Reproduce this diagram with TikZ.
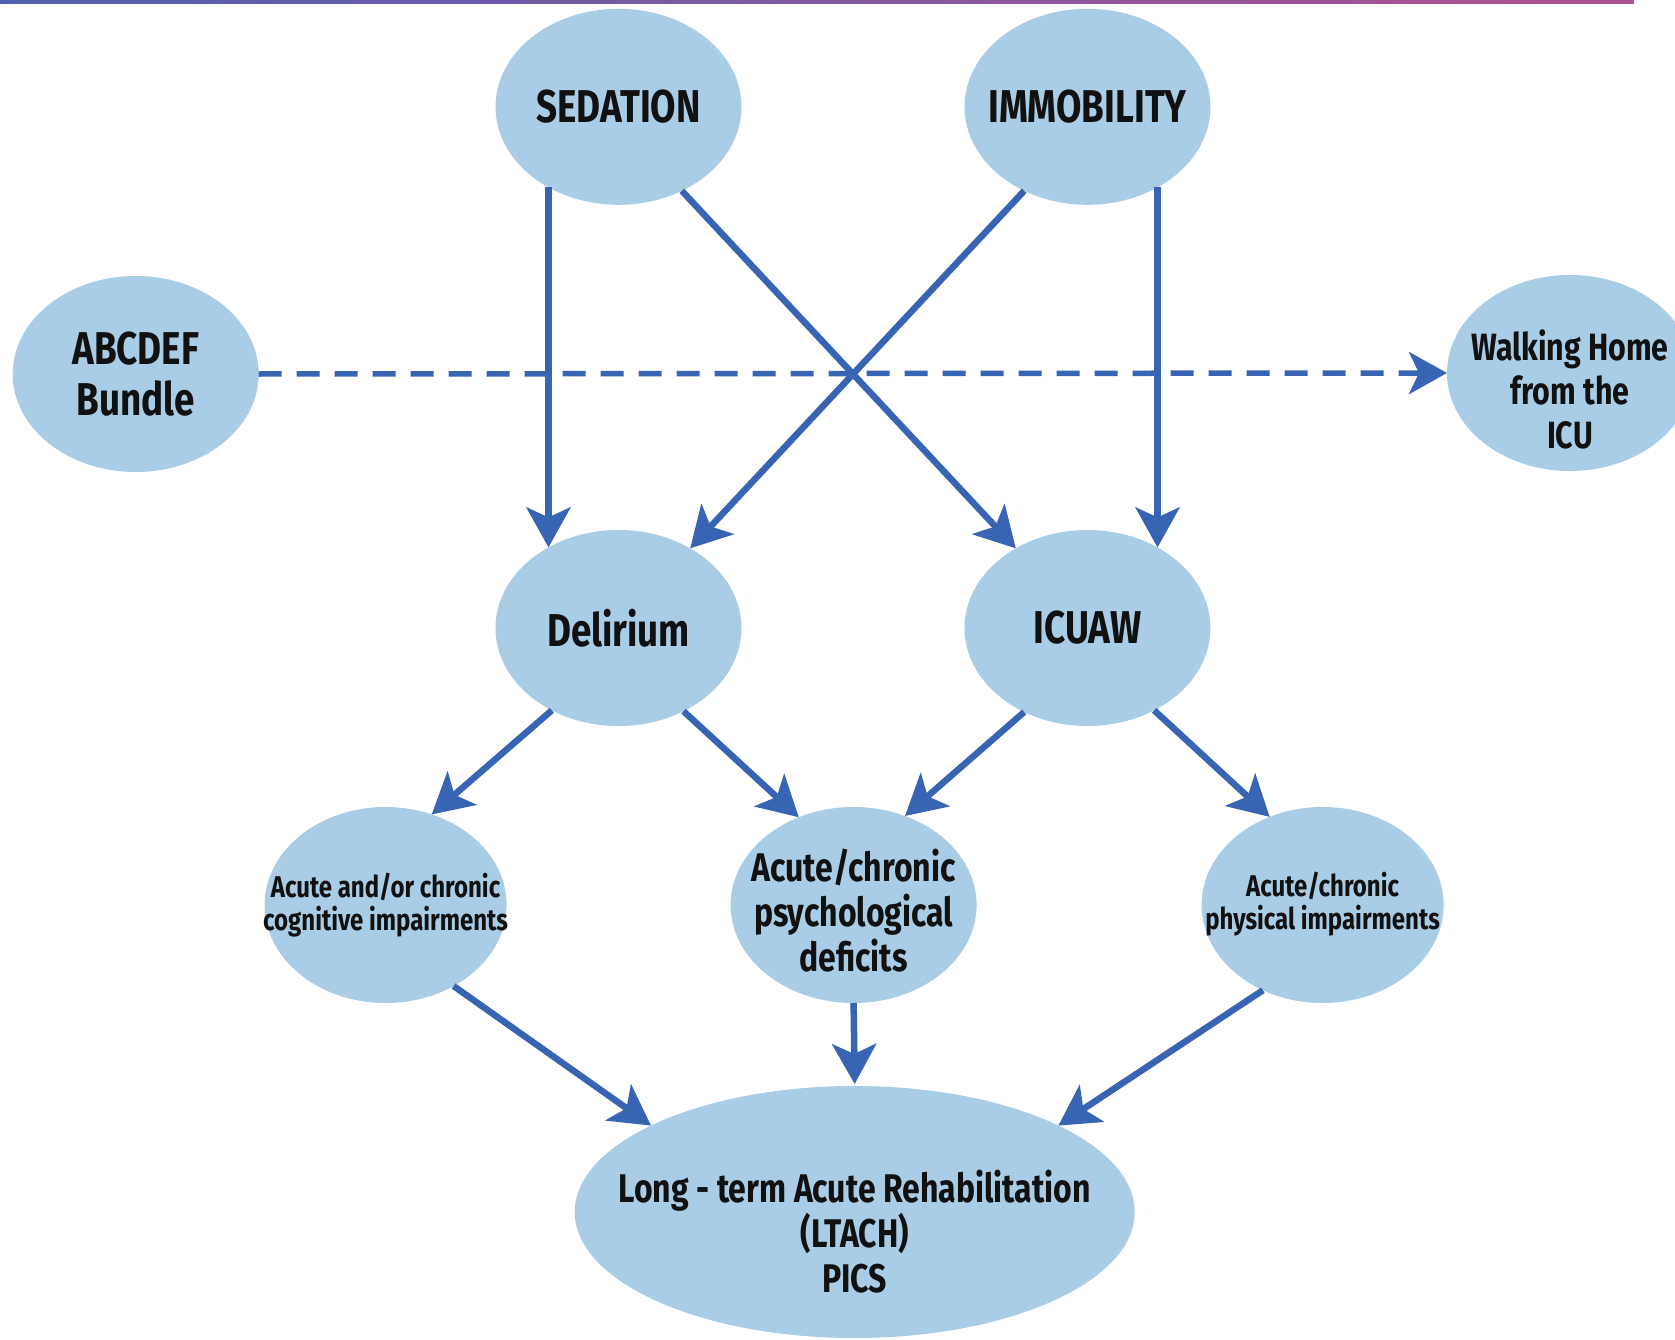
\documentclass[tikz,border=0pt]{standalone}
\usepackage{fontspec}
\newfontfamily\cf[FakeStretch=0.8]{Fira Sans}
\usetikzlibrary{shapes.geometric,arrows.meta}
\definecolor{ellfill}{RGB}{169,205,230}
\definecolor{arr}{RGB}{56,100,180}
\definecolor{ink}{RGB}{17,17,17}
\definecolor{barL}{RGB}{80,96,176}
\definecolor{barR}{RGB}{176,80,144}
\begin{document}
\begin{tikzpicture}[x=1pt,y=-1pt,
  ell/.style={ellipse, fill=ellfill, draw=none, inner sep=0pt, outer sep=0pt,
    minimum width=246pt, minimum height=196pt},
  txtbase/.style={align=center, text=ink, inner sep=0pt},
  bigtxt/.style={txtbase, font=\cf\bfseries\fontsize{46}{51}\selectfont},
  midtxt/.style={txtbase, font=\cf\bfseries\fontsize{40}{45}\selectfont},
  smalltxt/.style={txtbase, font=\cf\bfseries\fontsize{30}{33}\selectfont},
  conn/.style={draw=arr, line width=6.5pt, -{Stealth[length=40pt,width=44pt,inset=10pt]}},
  dashconn/.style={draw=arr, line width=5.5pt, dash pattern=on 23pt off 15pt,
    -{Stealth[length=38pt,width=42pt,inset=10pt]}}
]
\fill[white] (0,0) rectangle (1675,1340);
\useasboundingbox (0,0) rectangle (1675,1340);
\shade[left color=barL, right color=barR] (0,0) rectangle (1634,3.5);

% ellipses
\node[ell] (sed) at (618.5,106.8) {};
\node[ell] (imm) at (1087.5,106.8) {};
\node[ell] (abc) at (135.7,374) {};
\node[ell] (walk) at (1570,373) {};
\node[ell] (del) at (618.5,628) {};
\node[ell] (icu) at (1087.5,628) {};
\node[ell, minimum width=242pt] (cog) at (385.6,905) {};
\node[ell] (psy) at (853.6,905) {};
\node[ell, minimum width=242pt] (phy) at (1322.6,905) {};
\node[ell, minimum width=560pt, minimum height=252pt] (lt) at (854.7,1212) {};

% texts
\node[midtxt, font=\cf\bfseries\fontsize{38}{44}\selectfont] (walkT) at ([yshift=-16pt]walk.center) {Walking Home\\from the\\ICU};
\node[bigtxt] (sedT) at (sed) {SEDATION};
\node[bigtxt] (immT) at (imm) {IMMOBILITY};
\node[bigtxt] (abcT) at (abc) {ABCDEF\\Bundle};
\node[bigtxt] (delT) at (del) {Delirium};
\node[bigtxt] (icuT) at (icu) {ICUAW};
\node[smalltxt] (cogT) at (cog) {Acute and/or chronic\\cognitive impairments};
\node[midtxt] (psyT) at ([yshift=-6pt]psy.center) {Acute/chronic\\psychological\\deficits};
\node[smalltxt] (phyT) at ([yshift=1pt]phy.center) {Acute/chronic\\physical impairments};
\node[midtxt] (ltT) at ([yshift=-20pt]lt.center) {Long - term Acute Rehabilitation\\(LTACH)\\PICS};

% connectors
\draw[dashconn] (abc.east) -- (walk.west);
\draw[conn] (sed.-131) -- (del.131);
\draw[conn] (imm.-49) -- (icu.49);
\draw[conn] (sed.-53) -- (icu.132);
\draw[conn] (imm.-127) -- (del.48);
\draw[conn] (del.-129.5) -- (cog.63);
\draw[conn] (del.-52.7) -- (psy.122);
\draw[conn] (icu.-127.3) -- (psy.60);
\draw[conn] (icu.-51) -- (phy.121);
\draw[conn] (cog.-50.5) -- (lt.157);
\draw[conn] (psy.south) -- ([yshift=2pt]lt.north);
\draw[conn] (phy.-125.7) -- (lt.23);
\end{tikzpicture}
\end{document}
